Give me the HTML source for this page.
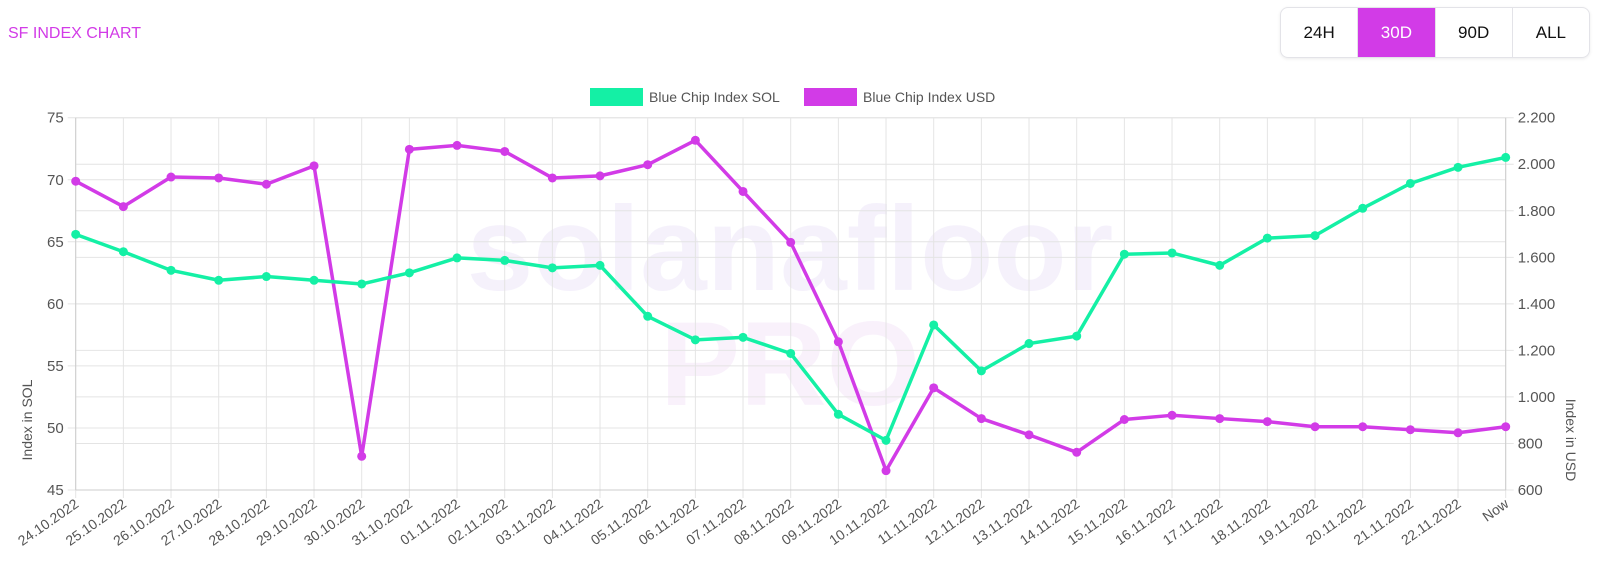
<!DOCTYPE html>
<html><head><meta charset="utf-8"><style>
body{margin:0;width:1600px;height:572px;background:#fff;font-family:"Liberation Sans",sans-serif;overflow:hidden;position:relative}
.title{position:absolute;left:8px;top:25px;color:#d23be7;font-size:16px}
.btns{position:absolute;left:1280px;top:7px;width:308px;height:49px;border:1px solid #e3e3e8;border-radius:8px;display:flex;overflow:hidden;box-shadow:0 1px 3px rgba(0,0,0,.08)}
.btns div{flex:1;display:flex;align-items:center;justify-content:center;font-size:17px;color:#111;border-right:1px solid #e3e3e8}
.btns div:last-child{border-right:none}
.btns .on{background:#d23be7;color:#fff}
</style></head><body>
<div class="title">SF INDEX CHART</div>
<div class="btns">
<div>24H</div>
<div class="on">30D</div>
<div>90D</div>
<div>ALL</div>
</div>
<svg id="chart" width="1600" height="572" style="position:absolute;left:0;top:0"></svg>
<script>
const categories=["24.10.2022","25.10.2022","26.10.2022","27.10.2022","28.10.2022","29.10.2022","30.10.2022","31.10.2022","01.11.2022","02.11.2022","03.11.2022","04.11.2022","05.11.2022","06.11.2022","07.11.2022","08.11.2022","09.11.2022","10.11.2022","11.11.2022","12.11.2022","13.11.2022","14.11.2022","15.11.2022","16.11.2022","17.11.2022","18.11.2022","19.11.2022","20.11.2022","21.11.2022","22.11.2022","Now"];
const solValues=[65.6,64.2,62.7,61.9,62.2,61.9,61.6,62.5,63.7,63.5,62.9,63.1,59.0,57.1,57.3,56.0,51.1,49.0,58.3,54.6,56.8,57.4,64.0,64.1,63.1,65.3,65.5,67.7,69.7,71.0,71.8];
const usdValues=[1927,1818,1945,1941,1914,1993,745,2064,2081,2055,1941,1950,1998,2103,1883,1664,1237,683,1039,907,837,762,903,921,907,894,872,872,859,846,872];
const leftTicks=[45,50,55,60,65,70,75];
const rightTicks=[600,800,1000,1200,1400,1600,1800,2000,2200];
const rightTickLabels=["600","800","1.000","1.200","1.400","1.600","1.800","2.000","2.200"];

const NS="http://www.w3.org/2000/svg";
const svg=document.getElementById('chart');
const L=75.7,R=1505.7,T=117.7,B=490;
const x=i=>L+i*(R-L)/(categories.length-1);
const yL=v=>B-(v-45)/(75-45)*(B-T);
const yR=v=>B-(v-600)/(2200-600)*(B-T);
function mk(tag,a,parent){const e=document.createElementNS(NS,tag);for(const k in a)e.setAttribute(k,a[k]);(parent||svg).appendChild(e);return e;}

// watermark
const wm=mk('text',{x:790,y:290,'text-anchor':'middle','font-size':120,'font-weight':'bold',fill:'#c9b8ee',opacity:0.18,'font-family':'Liberation Sans, sans-serif'});


wm.textContent='solanafloor';
const wm2=mk('text',{x:790,y:405,'text-anchor':'middle','font-size':120,'font-weight':'bold',fill:'#e0b8ee',opacity:0.18,'font-family':'Liberation Sans, sans-serif'});


wm2.textContent='PRO';

// grid
const g=mk('g',{stroke:'#e4e4e4','stroke-width':1});


leftTicks.forEach(v=>{mk('line',{x1:L-8,x2:R,y1:yL(v),y2:yL(v)},g);});
rightTicks.forEach(v=>{mk('line',{x1:L,x2:R+8,y1:yR(v),y2:yR(v)},g);});
categories.forEach((c,i)=>{mk('line',{x1:x(i),x2:x(i),y1:T,y2:B+8},g);});
mk('line',{x1:L,x2:R,y1:B,y2:B,stroke:'#ccc'});
mk('line',{x1:L,x2:L,y1:T,y2:B,stroke:'#ccc'});
mk('line',{x1:R,x2:R,y1:T,y2:B,stroke:'#ccc'});

// tick labels
leftTicks.forEach(v=>{const t=mk('text',{x:L-12,y:yL(v)+5,'text-anchor':'end','font-size':15,fill:'#555'});


t.textContent=v;});
rightTicks.forEach((v,i)=>{const t=mk('text',{x:R+12,y:yR(v)+5,'text-anchor':'start','font-size':15,fill:'#555'});


t.textContent=rightTickLabels[i];});
categories.forEach((c,i)=>{const t=mk('text',{x:x(i)+4,y:B+16,'text-anchor':'end','font-size':14,fill:'#555',transform:`rotate(-35 ${x(i)+4} ${B+16})`});


t.textContent=c;});
const yt=mk('text',{x:32,y:420,'text-anchor':'middle','font-size':14,fill:'#555',transform:'rotate(-90 32 420)'});


yt.textContent='Index in SOL';
const yt2=mk('text',{x:1566,y:440,'text-anchor':'middle','font-size':14,fill:'#555',transform:'rotate(90 1566 440)'});


yt2.textContent='Index in USD';

// series
function series(vals,yf,color,name){
  const gg=mk('g',{});
  
  
  mk('polyline',{points:vals.map((v,i)=>x(i)+','+yf(v)).join(' '),fill:'none',stroke:color,'stroke-width':3.5,'stroke-linejoin':'round'},gg);
  vals.forEach((v,i)=>{const c=mk('circle',{cx:x(i),cy:yf(v),r:4.5,fill:color},gg);
  
  });
}
series(usdValues,yR,'#d23be7','series-usd');
series(solValues,yL,'#14f0a5','series-sol');

// legend
const lg=mk('g',{});


const l1=mk('rect',{x:590,y:88,width:53,height:18,fill:'#14f0a5'},lg);


const lt1=mk('text',{x:649,y:102,'font-size':14,fill:'#555'},lg);


lt1.textContent='Blue Chip Index SOL';
const l2=mk('rect',{x:804,y:88,width:53,height:18,fill:'#d23be7'},lg);


const lt2=mk('text',{x:863,y:102,'font-size':14,fill:'#555'},lg);


lt2.textContent='Blue Chip Index USD';
</script>
</body></html>
